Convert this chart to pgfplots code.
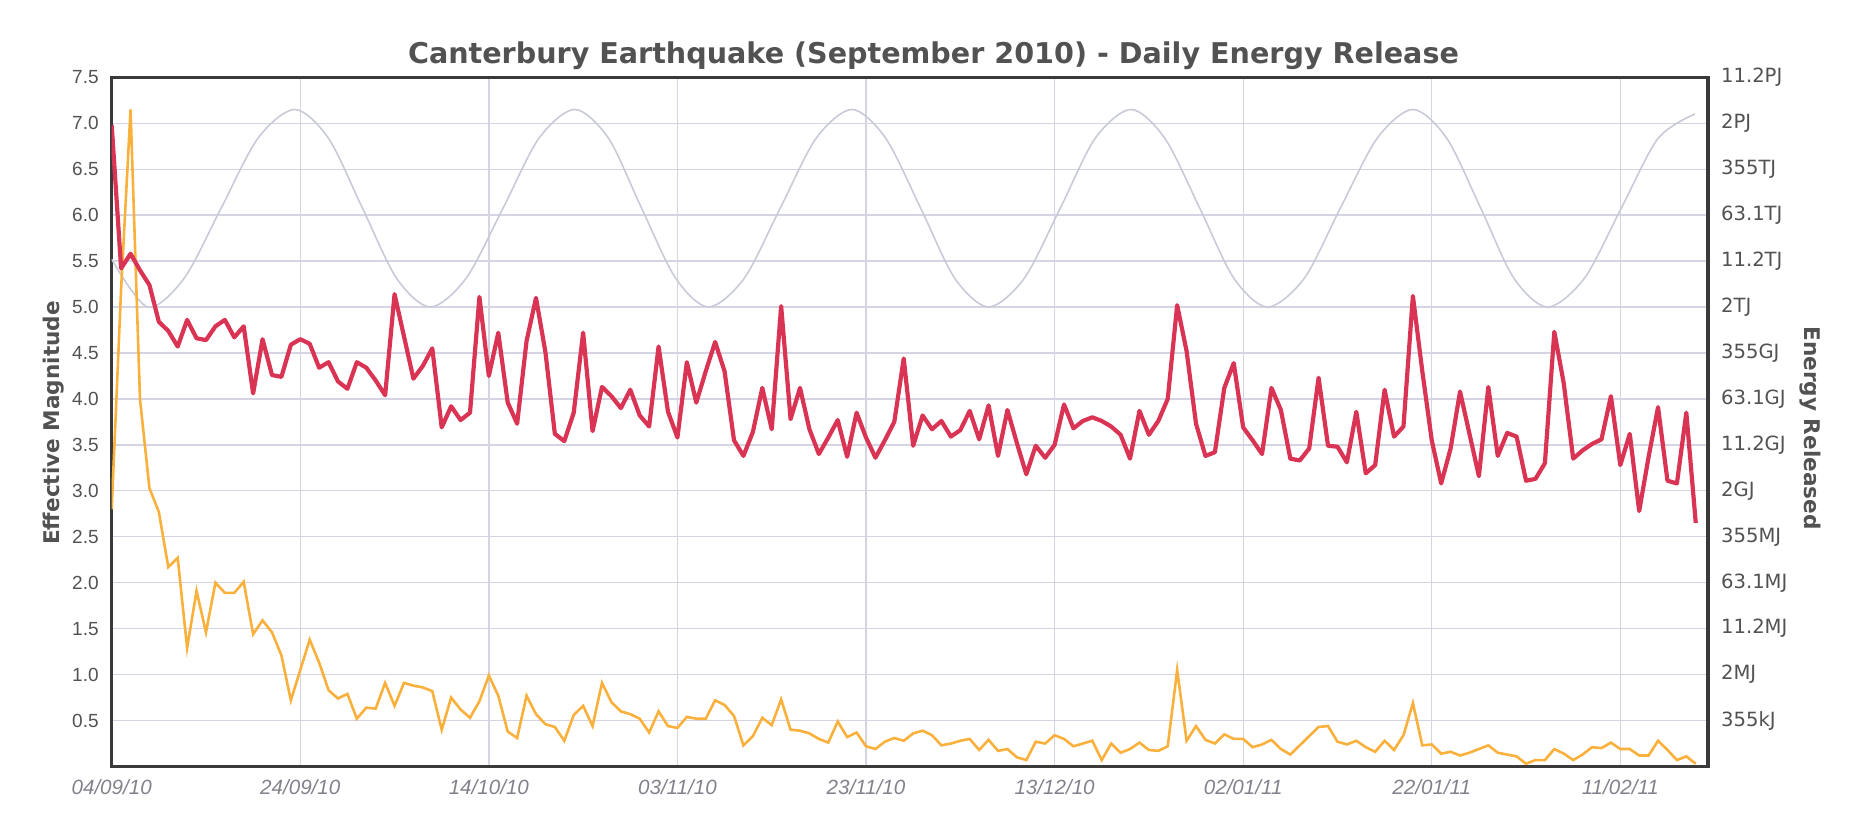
\documentclass[border=0pt]{standalone}
\usepackage{fontspec}
\setmainfont{Liberation Sans}
\newfontfamily\headfont{DejaVu Sans}
\usepackage{pgfplots}
\pgfplotsset{compat=1.18}
\usepackage{pgfplotstable}

\definecolor{magred}{RGB}{218,52,84}
\definecolor{energyorange}{RGB}{250,176,60}
\definecolor{moongray}{RGB}{200,202,216}
\definecolor{gridgray}{RGB}{212,212,226}
\definecolor{framegray}{RGB}{58,58,58}
\definecolor{textgray}{RGB}{82,82,82}
\definecolor{dategray}{RGB}{130,130,140}

% Daily effective magnitude (days after 04/09/10)
\pgfplotstableread{
day mag
0 6.98
1 5.42
2 5.58
3 5.40
4 5.24
5 4.84
6 4.74
7 4.57
8 4.86
9 4.66
10 4.64
11 4.79
12 4.86
13 4.67
14 4.79
15 4.06
16 4.65
17 4.26
18 4.24
19 4.59
20 4.65
21 4.60
22 4.34
23 4.40
24 4.19
25 4.11
26 4.40
27 4.34
28 4.20
29 4.04
30 5.14
31 4.68
32 4.22
33 4.36
34 4.55
35 3.69
36 3.92
37 3.77
38 3.85
39 5.11
40 4.25
41 4.72
42 3.96
43 3.73
44 4.63
45 5.10
46 4.51
47 3.62
48 3.54
49 3.85
50 4.72
51 3.65
52 4.13
53 4.03
54 3.90
55 4.10
56 3.82
57 3.70
58 4.57
59 3.86
60 3.58
61 4.40
62 3.96
63 4.30
64 4.62
65 4.30
66 3.55
67 3.38
68 3.64
69 4.12
70 3.67
71 5.01
72 3.78
73 4.12
74 3.67
75 3.40
76 3.58
77 3.77
78 3.37
79 3.85
80 3.58
81 3.36
82 3.55
83 3.75
84 4.44
85 3.49
86 3.82
87 3.67
88 3.76
89 3.59
90 3.66
91 3.87
92 3.56
93 3.93
94 3.38
95 3.88
96 3.52
97 3.18
98 3.49
99 3.36
100 3.50
101 3.94
102 3.68
103 3.76
104 3.80
105 3.76
106 3.70
107 3.61
108 3.35
109 3.87
110 3.61
111 3.76
112 4.00
113 5.02
114 4.52
115 3.73
116 3.38
117 3.42
118 4.12
119 4.39
120 3.69
121 3.55
122 3.40
123 4.12
124 3.88
125 3.35
126 3.33
127 3.46
128 4.23
129 3.49
130 3.48
131 3.31
132 3.86
133 3.19
134 3.28
135 4.10
136 3.59
137 3.70
138 5.12
139 4.30
140 3.55
141 3.08
142 3.46
143 4.08
144 3.62
145 3.16
146 4.13
147 3.38
148 3.63
149 3.59
150 3.11
151 3.13
152 3.30
153 4.73
154 4.17
155 3.35
156 3.44
157 3.51
158 3.56
159 4.03
160 3.28
161 3.62
162 2.78
163 3.37
164 3.91
165 3.11
166 3.08
167 3.85
168 2.65
}\magnitude

% Daily released energy, on the magnitude scale
\pgfplotstableread{
day energy
0 2.80
1 5.20
2 7.15
3 4.00
4 3.03
5 2.77
6 2.17
7 2.27
8 1.29
9 1.91
10 1.46
11 2.00
12 1.89
13 1.89
14 2.01
15 1.44
16 1.59
17 1.46
18 1.21
19 0.72
20 1.05
21 1.38
22 1.13
23 0.83
24 0.74
25 0.79
26 0.52
27 0.64
28 0.63
29 0.91
30 0.66
31 0.91
32 0.88
33 0.86
34 0.82
35 0.40
36 0.75
37 0.62
38 0.53
39 0.71
40 0.99
41 0.77
42 0.38
43 0.31
44 0.77
45 0.57
46 0.46
47 0.43
48 0.28
49 0.56
50 0.66
51 0.44
52 0.91
53 0.70
54 0.60
55 0.57
56 0.52
57 0.37
58 0.60
59 0.44
60 0.42
61 0.54
62 0.52
63 0.52
64 0.72
65 0.67
66 0.55
67 0.23
68 0.33
69 0.53
70 0.45
71 0.73
72 0.40
73 0.39
74 0.36
75 0.30
76 0.26
77 0.49
78 0.32
79 0.37
80 0.22
81 0.19
82 0.27
83 0.31
84 0.28
85 0.36
86 0.39
87 0.34
88 0.23
89 0.25
90 0.28
91 0.30
92 0.18
93 0.29
94 0.17
95 0.19
96 0.10
97 0.07
98 0.27
99 0.25
100 0.34
101 0.30
102 0.22
103 0.25
104 0.28
105 0.07
106 0.25
107 0.15
108 0.19
109 0.26
110 0.18
111 0.17
112 0.22
113 1.05
114 0.28
115 0.44
116 0.29
117 0.25
118 0.35
119 0.30
120 0.30
121 0.21
122 0.24
123 0.29
124 0.19
125 0.13
126 0.23
127 0.33
128 0.43
129 0.44
130 0.27
131 0.24
132 0.28
133 0.21
134 0.16
135 0.28
136 0.18
137 0.34
138 0.69
139 0.23
140 0.24
141 0.14
142 0.16
143 0.12
144 0.15
145 0.19
146 0.23
147 0.15
148 0.13
149 0.11
150 0.03
151 0.07
152 0.07
153 0.19
154 0.14
155 0.07
156 0.13
157 0.21
158 0.20
159 0.26
160 0.19
161 0.19
162 0.12
163 0.12
164 0.28
165 0.18
166 0.07
167 0.11
168 0.03
}\energy

% Lunar phase curve: new moon low, full moon high
\pgfplotstableread{
day phase
0 5.52
3.8 5.00
7.7 5.315
11.6 6.075
15.5 6.835
19.4 7.15
23.0 6.835
26.6 6.075
30.2 5.315
33.8 5.00
37.6 5.315
41.5 6.075
45.3 6.835
49.1 7.15
52.7 6.835
56.2 6.075
59.8 5.315
63.3 5.00
67.1 5.315
70.9 6.075
74.7 6.835
78.5 7.15
82.1 6.835
85.8 6.075
89.4 5.315
93.0 5.00
96.8 5.315
100.6 6.075
104.3 6.835
108.1 7.15
111.7 6.835
115.4 6.075
119.0 5.315
122.6 5.00
126.5 5.315
130.3 6.075
134.2 6.835
138.0 7.15
141.6 6.835
145.2 6.075
148.7 5.315
152.3 5.00
156.2 5.315
160.1 6.075
164.0 6.835
167.9 7.10
}\moon

\pgfplotsset{
  chartbase/.style={
    scale only axis,
    width=798.15pt, height=344.6pt,
    xmin=0, xmax=169.3, ymin=0, ymax=7.5,
    major tick length=0pt,
    ytick={0.5,1,1.5,2,2.5,3,3.5,4,4.5,5,5.5,6,6.5,7,7.5},
    tick label style={textgray, font=\fontsize{9.5}{11}\selectfont},
  },
}

\begin{document}
\begin{tikzpicture}
\path[use as bounding box] (-55.85pt,-30.75pt) rectangle (877.65pt,383.25pt);

\begin{axis}[
  chartbase,
  xtick={0,20,...,160},
  xticklabels={04/09/10,24/09/10,14/10/10,03/11/10,23/11/10,13/12/10,02/01/11,22/01/11,11/02/11},
  xticklabel style={font=\fontsize{10.3}{12}\selectfont\itshape, color=dategray, yshift=-3pt},
  yticklabels={0.5,1.0,1.5,2.0,2.5,3.0,3.5,4.0,4.5,5.0,5.5,6.0,6.5,7.0,7.5},
  yticklabel style={xshift=-3pt},
  grid=major,
  major grid style={gridgray, line width=0.65pt},
  axis line style={framegray, line width=1.6pt},
  every axis title shift=0pt,
  title={Canterbury Earthquake (September 2010) - Daily Energy Release},
  title style={at={(axis description cs:0.5148,1.0315)}, anchor=center,
    font=\headfont\bfseries\fontsize{14.3}{16}\selectfont, textgray},
  ylabel={Effective Magnitude},
  ylabel style={at={(axis description cs:-0.0364,0.4985)}, anchor=center,
    font=\headfont\bfseries\fontsize{10.8}{12}\selectfont, textgray},
]
\addplot[moongray, line width=0.8pt, smooth, no markers] table[x=day, y=phase] {\moon};
\addplot[energyorange, line width=1.3pt, no markers] table[x=day, y=energy] {\energy};
\addplot[magred, line width=2.1pt, no markers, line join=round] table[x=day, y=mag] {\magnitude};
\end{axis}

\begin{axis}[
  chartbase,
  axis x line=none,
  axis y line*=right,
  y axis line style={draw=none},
  yticklabels={355kJ,2MJ,11.2MJ,63.1MJ,355MJ,2GJ,11.2GJ,63.1GJ,355GJ,2TJ,11.2TJ,63.1TJ,355TJ,2PJ,11.2PJ},
  yticklabel style={xshift=3pt, font=\headfont\fontsize{9.8}{11}\selectfont},
  ylabel={Energy Released},
  ylabel style={at={(axis description cs:1.0639,0.4911)}, anchor=center, rotate=180,
    font=\headfont\bfseries\fontsize{10.8}{12}\selectfont, textgray},
]
\end{axis}
\end{tikzpicture}
\end{document}
